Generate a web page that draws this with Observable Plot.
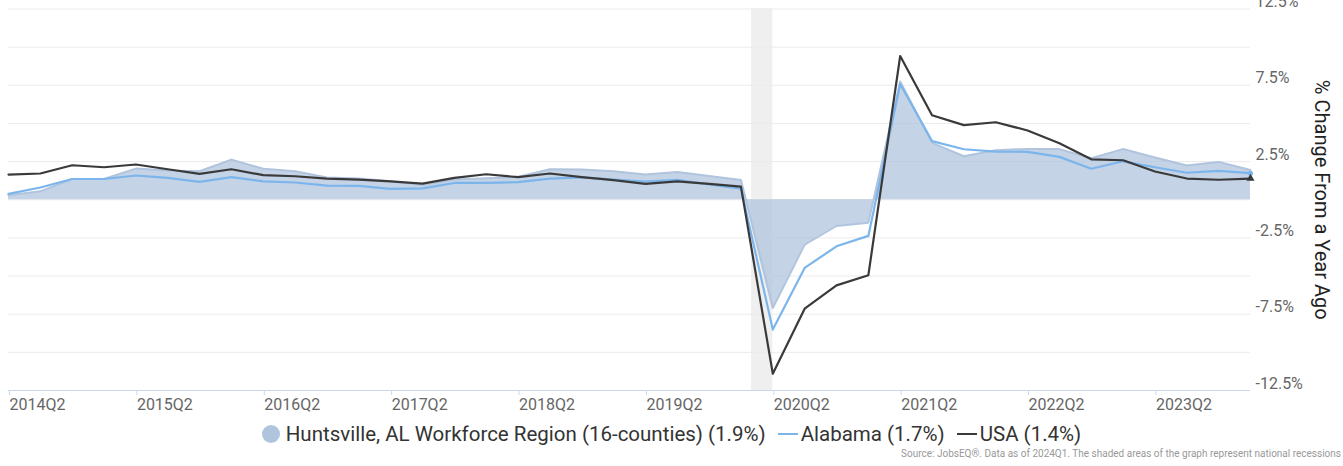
<!DOCTYPE html>
<html>
<head>
<meta charset="utf-8">
<script src="https://cdn.jsdelivr.net/npm/d3@7"></script>
<script src="https://cdn.jsdelivr.net/npm/@observablehq/plot@0.6"></script>
<style>
  html, body { margin: 0; padding: 0; background: #fff; }
  body { font-family: Roboto, "Liberation Sans", sans-serif; width: 1343px; }
  #chart svg { display: block; }
  #legend { height: 28px; display: flex; justify-content: center; align-items: center;
            font-size: 20.5px; color: #333; white-space: nowrap; }
  #legend .item { display: flex; align-items: center; margin: 0 6px; }
  #legend .circ { width: 18px; height: 18px; border-radius: 50%; margin-right: 6px; }
  #legend .ln { width: 20px; height: 2px; margin-right: 3px; }
  #source { font-size: 10px; color: #999; text-align: right; padding-right: 2px; line-height: 12px; margin-top: 0px; }
</style>
</head>
<body>
<div id="chart"></div>
<div id="legend"></div>
<div id="source"></div>
<script>
// Quarters (2014Q2 .. 2024Q1)
const quarters = [
  "2014Q2","2014Q3","2014Q4","2015Q1","2015Q2","2015Q3","2015Q4","2016Q1",
  "2016Q2","2016Q3","2016Q4","2017Q1","2017Q2","2017Q3","2017Q4","2018Q1",
  "2018Q2","2018Q3","2018Q4","2019Q1","2019Q2","2019Q3","2019Q4","2020Q1",
  "2020Q2","2020Q3","2020Q4","2021Q1","2021Q2","2021Q3","2021Q4","2022Q1",
  "2022Q2","2022Q3","2022Q4","2023Q1","2023Q2","2023Q3","2023Q4","2024Q1"
];
// % change from a year ago
const huntsville = [
  0.30, 0.55, 1.36, 1.36, 2.04, 1.91, 1.87, 2.63,
  2.03, 1.87, 1.46, 1.39, 1.21, 0.97, 1.32, 1.41,
  1.50, 2.00, 1.98, 1.87, 1.65, 1.82, 1.56, 1.30,
  -7.09, -2.94, -1.72, -1.50, 7.75, 3.73, 2.85, 3.25,
  3.33, 3.32, 2.72, 3.32, 2.77, 2.25, 2.48, 1.95
];
const alabama = [
  0.38, 0.80, 1.36, 1.36, 1.59, 1.43, 1.17, 1.48,
  1.21, 1.13, 0.93, 0.91, 0.71, 0.75, 1.10, 1.10,
  1.15, 1.39, 1.46, 1.32, 1.19, 1.30, 1.00, 0.73,
  -8.51, -4.47, -3.05, -2.37, 7.58, 3.84, 3.31, 3.16,
  3.14, 2.81, 2.03, 2.52, 2.13, 1.77, 1.89, 1.74
];
const usa = [
  1.65, 1.72, 2.26, 2.13, 2.31, 2.00, 1.69, 2.00,
  1.61, 1.54, 1.39, 1.32, 1.21, 1.06, 1.43, 1.67,
  1.48, 1.72, 1.48, 1.28, 1.04, 1.21, 1.04, 0.86,
  -11.40, -7.14, -5.61, -4.95, 9.42, 5.54, 4.89, 5.08,
  4.54, 3.70, 2.65, 2.59, 1.85, 1.39, 1.31, 1.39
];
const seriesNames = ["Huntsville, AL Workforce Region (16-counties)", "Alabama", "USA"];
const seriesLatest = ["1.9%", "1.7%", "1.4%"];
const seriesColors = ["#b0c4de", "#7cb5ec", "#3a3a3a"];
const xTickLabels = ["2014Q2","2015Q2","2016Q2","2017Q2","2018Q2","2019Q2","2020Q2","2021Q2","2022Q2","2023Q2"];
const yTickValues = [12.5, 7.5, 2.5, -2.5, -7.5, -12.5];
const yTickLabels = ["12.5%", "7.5%", "2.5%", "-2.5%", "-7.5%", "-12.5%"];
const yGridValues = [12.5, 10, 7.5, 5, 2.5, 0, -2.5, -5, -7.5, -10];
const recessions = [{start: "2020-02", end: "2020-04"}];
const yTitle = "% Change From a Year Ago";
const sourceText = "Source: JobsEQ\u00AE. Data as of 2024Q1. The shaded areas of the graph represent national recessions";

const qToNum = q => +q.slice(0, 4) + (+q.slice(5) - 1) / 4;
const ymToNum = s => +s.slice(0, 4) + (+s.slice(5) - 1) / 12;

const data = quarters.map((q, i) => ({t: qToNum(q), hv: huntsville[i], al: alabama[i], us: usa[i]}));
const rec = recessions.map(r => ({x1: ymToNum(r.start), x2: ymToNum(r.end)}));
const xTickValues = xTickLabels.map(qToNum);
const last = [data[data.length - 1]];

const chart = Plot.plot({
  width: 1343,
  height: 420,
  marginLeft: 8,
  marginRight: 93,
  marginTop: 8.5,
  marginBottom: 30,
  style: {fontFamily: "Roboto, sans-serif", background: "#fff", overflow: "visible"},
  x: {type: "linear", domain: [qToNum(quarters[0]), qToNum(quarters[quarters.length - 1])]},
  y: {domain: [-12.5, 12.5], label: null},
  marks: [
    Plot.rect(rec, {x1: "x1", x2: "x2", fill: "#efefef"}),
    Plot.ruleY(yGridValues, {stroke: "#ebebeb", strokeWidth: 1}),
    Plot.areaY(data, {x: "t", y: "hv", fill: seriesColors[0], fillOpacity: 0.75}),
    Plot.lineY(data, {x: "t", y: "hv", stroke: seriesColors[0], strokeWidth: 2}),
    Plot.lineY(data, {x: "t", y: "al", stroke: seriesColors[1], strokeWidth: 2.2}),
    Plot.lineY(data, {x: "t", y: "us", stroke: seriesColors[2], strokeWidth: 2.2}),
    Plot.dot(last, {x: "t", y: "al", r: 2.5, fill: seriesColors[1]}),
    Plot.dot(last, {x: "t", y: "us", r: 3, symbol: "triangle", fill: seriesColors[2]}),
    Plot.ruleY([-12.5], {stroke: "#ccd6eb", strokeWidth: 1}),
    Plot.axisX(xTickValues, {
      tickSize: 5, stroke: "#ccd6eb", tickPadding: 3,
      tickFormat: d => xTickLabels[xTickValues.indexOf(d)],
      textAnchor: "start", dx: 1, fontSize: 16, fill: "#666", label: null
    }),
    Plot.axisY(yTickValues, {
      anchor: "right", tickSize: 0, tickPadding: 5, dy: -7,
      tickFormat: d => yTickLabels[yTickValues.indexOf(d)],
      fontSize: 16, fill: "#666", label: null
    }),
    Plot.text([yTitle], {frameAnchor: "right", textAnchor: "middle", rotate: 90, dx: 71, fontSize: 20, fill: "#222"})
  ]
});
document.getElementById("chart").appendChild(chart);

const legend = document.getElementById("legend");
seriesNames.forEach((name, i) => {
  const item = document.createElement("div");
  item.className = "item";
  const sw = document.createElement("span");
  sw.className = i === 0 ? "circ" : "ln";
  sw.style.background = seriesColors[i];
  const label = document.createElement("span");
  label.textContent = `${name} (${seriesLatest[i]})`;
  item.appendChild(sw);
  item.appendChild(label);
  legend.appendChild(item);
});
document.getElementById("source").textContent = sourceText;
</script>
</body>
</html>
